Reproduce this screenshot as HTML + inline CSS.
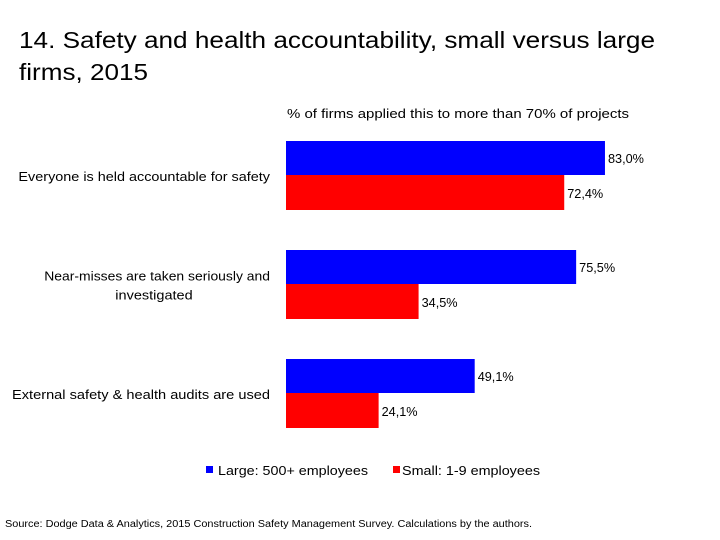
<!DOCTYPE html>
<html><head><meta charset="utf-8"><style>
body{margin:0;background:#fff;font-family:"Liberation Sans",sans-serif}
#c{position:relative;width:720px;height:540px;overflow:hidden}
</style></head><body>
<div id="c">
<svg width="720" height="540">
<text x="19" y="48" font-size="23" fill="#000" textLength="636" lengthAdjust="spacingAndGlyphs">14. Safety and health accountability, small versus large</text>
<text x="19" y="80" font-size="23" fill="#000" textLength="129" lengthAdjust="spacingAndGlyphs">firms, 2015</text>
<text x="287" y="118" font-size="13" fill="#000" textLength="342" lengthAdjust="spacingAndGlyphs">%  of firms applied this to more than 70% of projects</text>
<g id="bars"></g>
<g>
<rect x="206" y="466" width="7" height="7" fill="#0000ff"/>
<text x="218" y="475" font-size="13" textLength="150" lengthAdjust="spacingAndGlyphs">Large: 500+ employees</text>
<rect x="393" y="466" width="7" height="7" fill="#ff0000"/>
<text x="402" y="475" font-size="13" textLength="138" lengthAdjust="spacingAndGlyphs">Small: 1-9 employees</text>
</g>
<text x="5" y="527" font-size="10" textLength="527" lengthAdjust="spacingAndGlyphs">Source: Dodge Data &amp; Analytics, 2015 Construction Safety Management Survey. Calculations by the authors.</text>
</svg>
</div>
<script>
const categories=[["Everyone is held accountable for safety"],["Near-misses are taken seriously and","investigated"],["External safety & health audits are used"]];
const largeValues=[83.0,75.5,49.1];
const smallValues=[72.4,34.5,24.1];
const ns="http://www.w3.org/2000/svg";
const g=document.getElementById("bars");
const x0=286, pxPer=3.843;
function xs(v){return x0+v*pxPer;}
function yGroup(i){return 141+i*109;}
const barH=34;
function mk(tag,attrs){const e=document.createElementNS(ns,tag);for(const k in attrs)e.setAttribute(k,attrs[k]);g.appendChild(e);return e;}
function fmt(v){return v.toFixed(1).replace(".",",")+"%";}
function est(s){return s.length*6.45;}
categories.forEach((lines,i)=>{
  const y=yGroup(i);
  const b=mk("rect",{x:x0,y:y,width:xs(largeValues[i])-x0,height:barH,fill:"#0000ff"});
  
  
  const r=mk("rect",{x:x0,y:y+barH,width:xs(smallValues[i])-x0,height:barH+1,fill:"#ff0000"});
  
  
  const t1=mk("text",{x:xs(largeValues[i])+3,y:y+barH/2+5,"font-size":13,textLength:36,lengthAdjust:"spacingAndGlyphs"});
  t1.textContent=fmt(largeValues[i]);
  
  
  const t2=mk("text",{x:xs(smallValues[i])+3,y:y+barH+barH/2+6,"font-size":13,textLength:36,lengthAdjust:"spacingAndGlyphs"});
  t2.textContent=fmt(smallValues[i]);
  
  
  const cy=y+barH+6-(lines.length-1)*9.5;
  lines.forEach((ln,j)=>{
    const multi=lines.length>1&&j>0;
    const c=mk("text",{x:multi?154:270,y:cy+j*19,"font-size":13,"text-anchor":multi?"middle":"end",textLength:est(ln),lengthAdjust:"spacingAndGlyphs"});
    c.textContent=ln;
    
    
  });
});
</script>
</body></html>
